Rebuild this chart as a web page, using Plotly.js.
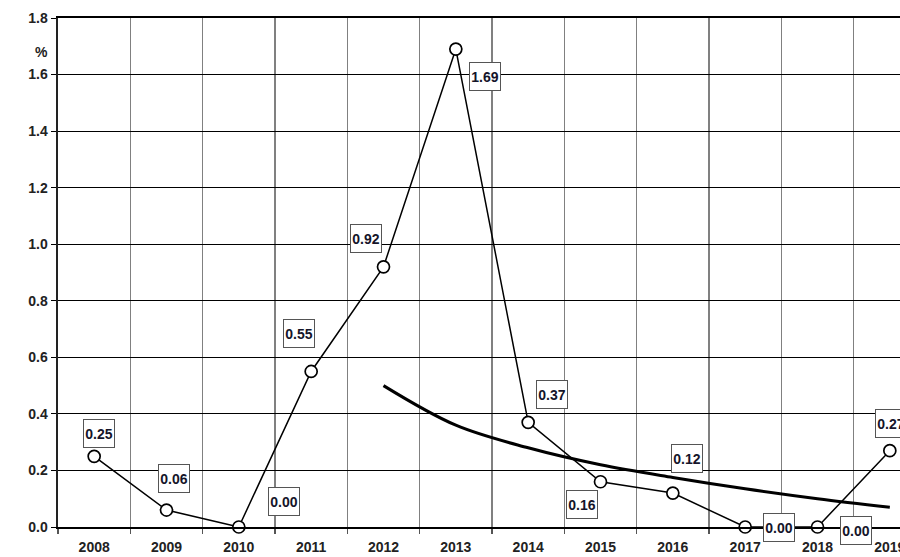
<!DOCTYPE html>
<html>
<head>
<meta charset="utf-8">
<script src="https://cdn.plot.ly/plotly-3.0.1.min.js"></script>
<style>
html,body{margin:0;padding:0;overflow:hidden;background:#fff;width:900px;height:557px;}
#chart{width:932px;height:557px;}
</style>
</head>
<body>
<div id="chart"></div>
<script>
const years = [2008, 2009, 2010, 2011, 2012, 2013, 2014, 2015, 2016, 2017, 2018, 2019];
const values = [0.25, 0.06, 0.00, 0.55, 0.92, 1.69, 0.37, 0.16, 0.12, 0.00, 0.00, 0.27];
const valueLabels = ['0.25','0.06','0.00','0.55','0.92','1.69','0.37','0.16','0.12','0.00','0.00','0.27'];
const trendYears = [2012, 2013, 2014, 2015, 2016, 2017, 2018, 2019];
const trendValues = [0.50, 0.36, 0.28, 0.22, 0.175, 0.135, 0.10, 0.07];
const yTicks = [0, 0.2, 0.4, 0.6, 0.8, 1.0, 1.2, 1.4, 1.6, 1.8];
const yTickText = ['0.0','0.2','0.4','0.6','0.8','1.0','1.2','1.4','1.6','1.8'];

const labelShift = [[5,-23],[7,-32],[45,-26],[-12,-38],[-18,-28],[29,27],[24,-28],[-19,23],[14,-35],[34,0],[38,3],[1,-27]];

const fam = 'Arial, Liberation Sans, sans-serif';

const annotations = years.map((yr, i) => ({
  x: yr, y: values[i], xref: 'x', yref: 'y',
  text: '<b>' + valueLabels[i] + '</b>',
  showarrow: false,
  xshift: labelShift[i][0], yshift: -labelShift[i][1],
  bgcolor: '#ffffff', bordercolor: '#555555', borderwidth: 1, borderpad: 1,
  width: 28, height: 25,
  font: {family: fam, size: 14, color: '#15152a'}
}));
annotations.push({
  xref: 'paper', yref: 'y', x: 0, y: 1.7, xshift: -25, yshift: -6,
  text: '<b>%</b>', showarrow: false,
  font: {family: fam, size: 14, color: '#222'}
});

const traces = [
  {
    x: trendYears, y: trendValues, type: 'scatter', mode: 'lines',
    line: {color: '#000', width: 3, shape: 'spline'},
    hoverinfo: 'skip'
  },
  {
    x: years, y: values, type: 'scatter', mode: 'lines+markers',
    line: {color: '#000', width: 1.5},
    marker: {size: 12, color: '#fff', line: {color: '#000', width: 1.7}},
    cliponaxis: false
  }
];

const layout = {
  width: 932, height: 557,
  margin: {l: 58, r: 6, t: 18, b: 30},
  paper_bgcolor: '#fff', plot_bgcolor: '#fff',
  showlegend: false,
  xaxis: {
    range: [2007.5, 2019.5],
    tickvals: years, ticktext: years.map(y => '<b>' + y + '</b>'),
    showgrid: false, zeroline: false,
    ticks: '',
    ticklabelstandoff: 6,
    minor: {tick0: 2007.5, dtick: 1, showgrid: true, gridcolor: '#808080', gridwidth: 1.5,
            ticks: 'outside', ticklen: 5, tickcolor: '#555', tickwidth: 1.5},
    showline: true, linecolor: '#000', linewidth: 2, mirror: true,
    tickfont: {family: fam, size: 14, color: '#222'},
    fixedrange: true
  },
  yaxis: {
    range: [0, 1.8],
    tickvals: yTicks, ticktext: yTickText.map(t => '<b>' + t + '</b>'),
    showgrid: true, gridcolor: '#000', gridwidth: 1,
    zeroline: false,
    ticks: 'outside', ticklen: 5, tickcolor: '#000', tickwidth: 1,
    showline: true, linecolor: '#222', linewidth: 2.5, mirror: true,
    tickfont: {family: fam, size: 14, color: '#222'},
    fixedrange: true
  },
  annotations: annotations
};

Plotly.newPlot('chart', traces, layout, {displayModeBar: false, staticPlot: true});
</script>
</body>
</html>
